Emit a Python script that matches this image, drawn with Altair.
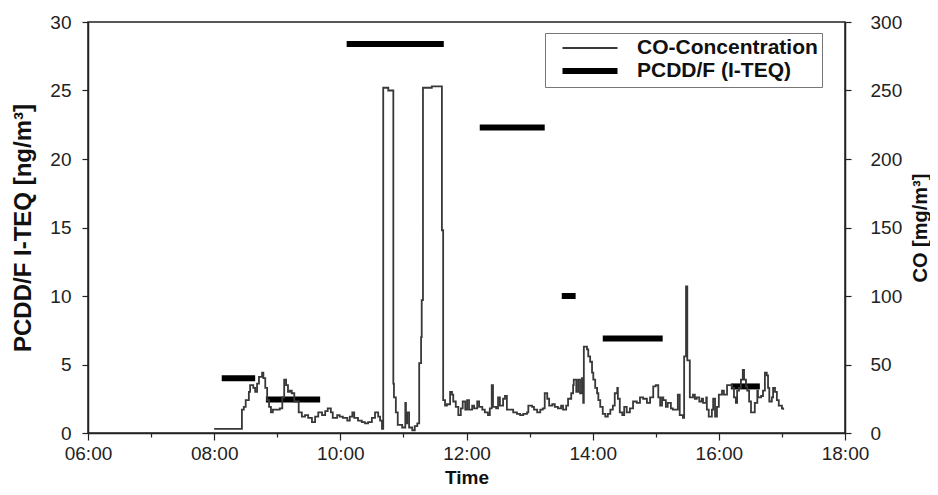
import altair as alt
import pandas as pd

# CO concentration trace (time in decimal hours, CO in mg/m3)
co_time = [
    8.00, 8.44, 8.47, 8.50, 8.55, 8.57, 8.62, 8.65, 8.68, 8.71, 8.76, 8.78, 8.81, 8.84, 8.87,
    8.90, 8.93, 9.00, 9.04, 9.08, 9.11, 9.14, 9.17, 9.20, 9.23, 9.27, 9.31, 9.34, 9.39, 9.44,
    9.49, 9.55, 9.60, 9.65, 9.71, 9.76, 9.80, 9.85, 9.88, 9.95, 9.99, 10.04, 10.11, 10.15, 10.19,
    10.22, 10.28, 10.34, 10.39, 10.44, 10.50, 10.55, 10.60, 10.63, 10.66, 10.68, 10.76, 10.84, 10.85, 10.88,
    10.91, 10.98, 11.01, 11.03, 11.04, 11.06, 11.09, 11.14, 11.18, 11.22, 11.25, 11.28, 11.29, 11.31, 11.45,
    11.61, 11.63, 11.66, 11.69, 11.74, 11.77, 11.79, 11.83, 11.87, 11.91, 11.94, 11.98, 12.01, 12.04, 12.09,
    12.12, 12.17, 12.20, 12.25, 12.29, 12.34, 12.37, 12.40, 12.42, 12.47, 12.50, 12.53, 12.58, 12.61, 12.64,
    12.69, 12.74, 12.80, 12.85, 12.90, 12.96, 12.98, 13.04, 13.07, 13.12, 13.17, 13.21, 13.24, 13.28, 13.31,
    13.36, 13.40, 13.45, 13.50, 13.53, 13.58, 13.61, 13.66, 13.69, 13.70, 13.74, 13.77, 13.80, 13.83, 13.85,
    13.86, 13.91, 13.93, 13.96, 13.99, 14.01, 14.04, 14.07, 14.09, 14.12, 14.16, 14.20, 14.24, 14.28, 14.32,
    14.35, 14.39, 14.40, 14.43, 14.47, 14.50, 14.54, 14.59, 14.64, 14.70, 14.75, 14.80, 14.86, 14.91, 14.96,
    15.00, 15.04, 15.07, 15.10, 15.12, 15.16, 15.19, 15.24, 15.27, 15.34, 15.35, 15.38, 15.43, 15.45, 15.48,
    15.50, 15.53, 15.54, 15.59, 15.62, 15.65, 15.69, 15.73, 15.75, 15.80, 15.81, 15.84, 15.89, 15.91, 15.94,
    15.97, 16.00, 16.05, 16.08, 16.13, 16.16, 16.21, 16.24, 16.27, 16.29, 16.32, 16.35, 16.38, 16.40, 16.43,
    16.45, 16.48, 16.51, 16.54, 16.57, 16.61, 16.62, 16.67, 16.70, 16.73, 16.76, 16.78, 16.80, 16.84, 16.86,
    16.89, 16.92, 16.95, 17.00, 17.02,
]
co_value = [
    3, 17, 19, 24, 30, 35, 33, 30, 36, 41, 44, 40, 33, 24, 19,
    15, 17, 17, 18, 26, 39, 35, 30, 31, 29, 23, 23, 15, 12, 13,
    11, 8, 12, 15, 13, 16, 18, 15, 11, 13, 12, 11, 9, 12, 15,
    11, 9, 8, 7, 8, 11, 15, 12, 9, 3, 252, 250, 36, 26, 15,
    6, 4, 4, 22, 7, 15, 4, 2, 5, 7, 51, 70, 97, 252, 253,
    148, 24, 20, 21, 30, 28, 23, 19, 13, 18, 23, 17, 24, 17, 20,
    18, 23, 19, 17, 15, 13, 18, 35, 19, 18, 26, 20, 25, 27, 17,
    17, 15, 14, 13, 14, 15, 20, 19, 17, 15, 17, 18, 29, 25, 20,
    21, 19, 18, 20, 17, 20, 25, 29, 35, 39, 30, 39, 29, 40, 22,
    63, 61, 56, 52, 44, 39, 33, 29, 24, 19, 14, 12, 14, 17, 20,
    29, 33, 25, 15, 13, 19, 15, 18, 23, 22, 26, 25, 22, 26, 34,
    35, 26, 20, 26, 24, 19, 22, 18, 17, 17, 28, 13, 11, 56, 107,
    53, 53, 26, 28, 25, 26, 23, 25, 22, 26, 17, 12, 17, 25, 12,
    19, 28, 31, 28, 35, 35, 33, 26, 22, 31, 33, 39, 46, 39, 34,
    31, 23, 15, 15, 22, 31, 26, 27, 31, 44, 42, 33, 23, 26, 33,
    30, 24, 20, 18, 17,
]

# PCDD/F sampling periods (start/end in decimal hours) and I-TEQ values (ng/m3)
pcdd_start = [8.12, 8.82, 10.10, 12.21, 13.51, 14.16, 16.19]
pcdd_end = [8.65, 9.68, 11.64, 13.24, 13.73, 15.11, 16.65]
pcdd_value = [4.0, 2.45, 28.4, 22.3, 10.0, 6.9, 3.4]

series = ["CO-Concentration", "PCDD/F (I-TEQ)"]
hour_ticks = list(range(6, 19))
left_ticks = [0, 5, 10, 15, 20, 25, 30]
right_ticks = [0, 50, 100, 150, 200, 250, 300]

co_df = pd.DataFrame({"time": co_time, "co": co_value, "series": series[0]})
pc_df = pd.DataFrame({"start": pcdd_start, "end": pcdd_end, "value": pcdd_value, "series": series[1]})

FONT = "Liberation Sans"

legend = alt.Legend(
    title=None, orient="none", legendX=457, legendY=11,
    symbolType="M-2.75,0H2.75", symbolSize=400, labelFont=FONT, labelFontSize=21,
    labelFontWeight="bold", labelColor="#111", labelLimit=0,
    strokeColor="#777", padding=4, rowPadding=0, labelOffset=34, symbolOffset=28,
    fillColor="white",
)
color = alt.Color("series:N", scale=alt.Scale(domain=series, range=["#383838", "#000000"]), legend=legend)
width = alt.StrokeWidth("series:N", scale=alt.Scale(domain=series, range=[1.8, 6]), legend=legend)

x_axis = alt.Axis(
    values=hour_ticks, title="Time", grid=False,
    labelExpr="datum.value % 2 == 0 ? ((datum.value < 10 ? '0' : '') + datum.value + ':00') : ''",
    tickSize={"condition": {"test": "datum.value % 2 == 0", "value": 7}, "value": 4},
    labelPadding=4, titlePadding=5, labelFlush=False,
)
x_scale = alt.Scale(domain=[6, 18], nice=False, zero=False)

bars = alt.Chart(pc_df).mark_rule(strokeCap="butt").encode(
    x=alt.X("start:Q", scale=x_scale, axis=x_axis),
    x2="end:Q",
    y=alt.Y("value:Q", scale=alt.Scale(domain=[0, 30], nice=False),
            axis=alt.Axis(orient="left", values=left_ticks, title="PCDD/F I-TEQ [ng/m³]",
                          grid=False, tickSize=6, labelPadding=11, titlePadding=14,
                          titleFontSize=24)),
    color=color,
    strokeWidth=width,
)

line = alt.Chart(co_df).mark_line(interpolate="step-after").encode(
    x=alt.X("time:Q", scale=x_scale, axis=x_axis),
    y=alt.Y("co:Q", scale=alt.Scale(domain=[0, 300], nice=False),
            axis=alt.Axis(orient="right", values=right_ticks, title="CO [mg/m³]",
                          grid=False, tickSize=6, labelPadding=19, titlePadding=9,
                          titleAngle=270, titleBaseline="top", titleFontSize=20)),
    color=color,
    strokeWidth=width,
)

chart = alt.layer(bars, line).resolve_scale(y="independent").properties(
    width=757, height=411,
    autosize=alt.AutoSizeParams(type="none"),
    padding={"left": 80, "top": 14, "right": 85, "bottom": 54},
).configure_view(
    stroke="#222", strokeWidth=1.5,
).configure_axis(
    labelFont=FONT, labelFontSize=19, labelColor="#222",
    titleFont=FONT, titleFontSize=19, titleFontWeight="bold", titleColor="#111",
    domainColor="#222", domainWidth=1.5, tickColor="#222", tickWidth=1.2,
)

chart.save("out.html", embed_options={"renderer": "svg", "actions": False})
